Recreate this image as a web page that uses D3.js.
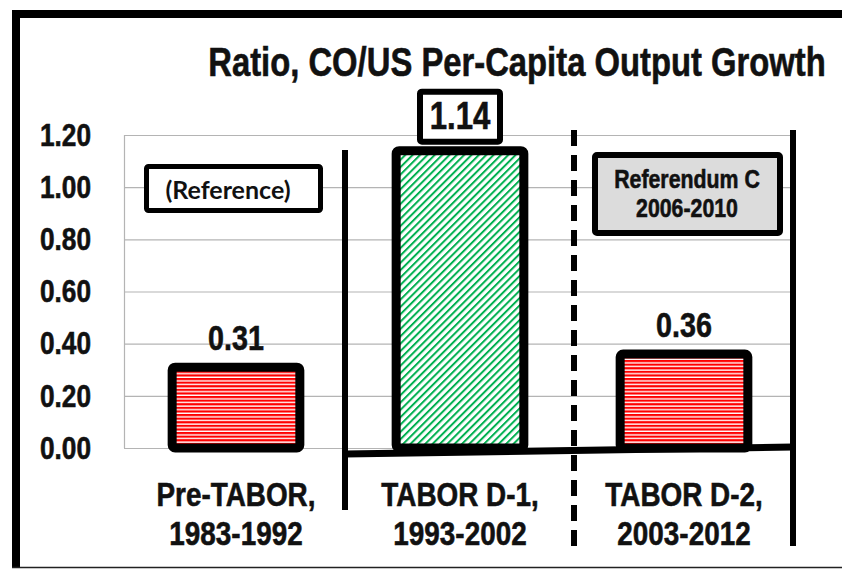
<!DOCTYPE html>
<html>
<head>
<meta charset="utf-8">
<script src="https://cdn.jsdelivr.net/npm/d3@7"></script>
<style>
  body { margin: 0; background: #fff; }
  text { font-family: 'Liberation Sans', Arial, sans-serif; font-weight: bold; fill: #111; }
  text.heavy { stroke: #111; stroke-width: 0.6px; }
</style>
</head>
<body>
<div id="chart"></div>
<script>
const width = 842;
const height = 570;

// data
const categories = ["Pre-TABOR,|1983-1992", "TABOR D-1,|1993-2002", "TABOR D-2,|2003-2012"];
const values = [0.31, 1.14, 0.36];
const fills = ["red", "green", "red"];
const yTicks = [0, 0.2, 0.4, 0.6, 0.8, 1.0, 1.2];
const titleText = "Ratio, CO/US Per-Capita Output Growth";

const plot = { left: 124, right: 796, top: 135, bottom: 448 };
const narrow = 0.82; // squeeze Liberation Sans to look like Arial Narrow

const x = d3.scaleBand()
    .domain(categories)
    .range([plot.left, plot.right])
    .paddingInner(0.43)
    .paddingOuter(0.215);

const y = d3.scaleLinear()
    .domain([0, 1.2])
    .range([plot.bottom, plot.top]);

const svg = d3.select("#chart").append("svg")
    .attr("width", width)
    .attr("height", height);

// narrow bold text helper
function label(px, py, t, size) {
    return svg.append("text")
        .attr("class", "heavy")
        .attr("transform", `translate(${px},${py}) scale(${narrow},1)`)
        .attr("text-anchor", "middle")
        .attr("font-size", size)
        .text(t);
}

// patterns
const defs = svg.append("defs");
const red = defs.append("pattern")
    .attr("id", "red")
    .attr("patternUnits", "userSpaceOnUse")
    .attr("width", 8).attr("height", 3.6);
red.append("rect").attr("width", 8).attr("height", 3.6).attr("fill", "#fff");
red.append("rect").attr("width", 8).attr("height", 2.2).attr("fill", "#ff0000");

const green = defs.append("pattern")
    .attr("id", "green")
    .attr("patternUnits", "userSpaceOnUse")
    .attr("width", 5.2).attr("height", 10)
    .attr("patternTransform", "rotate(45)");
green.append("rect").attr("width", 5.2).attr("height", 10).attr("fill", "#fff");
green.append("rect").attr("width", 2).attr("height", 10).attr("fill", "#00b050");

// frame
svg.append("line").attr("x1", 12).attr("x2", width).attr("y1", 14).attr("y2", 14)
    .attr("stroke", "#000").attr("stroke-width", 8);
svg.append("line").attr("x1", 16).attr("x2", 16).attr("y1", 10).attr("y2", 568)
    .attr("stroke", "#000").attr("stroke-width", 8);
svg.append("line").attr("x1", 12).attr("x2", width).attr("y1", 567.5).attr("y2", 567.5)
    .attr("stroke", "#222").attr("stroke-width", 1.5);

// gridlines
svg.append("g")
    .attr("transform", `translate(${plot.left},0)`)
    .call(d3.axisLeft(y).tickValues(yTicks).tickSize(-(790 - plot.left)).tickFormat(""))
    .call(g => g.select(".domain").remove())
    .call(g => g.selectAll("line").attr("stroke", "#b4b4b4").attr("stroke-width", 1.2));
svg.append("line")
    .attr("x1", plot.left + 0.5).attr("x2", plot.left + 0.5)
    .attr("y1", y(1.2)).attr("y2", y(0))
    .attr("stroke", "#b4b4b4").attr("stroke-width", 1.2);

// y tick labels
svg.append("g")
    .attr("transform", "translate(91,0)")
    .call(d3.axisLeft(y).tickValues(yTicks).tickSize(0).tickPadding(0).tickFormat(d3.format(".2f")))
    .call(g => g.select(".domain").remove())
    .call(g => g.selectAll("text")
        .attr("class", "heavy")
        .attr("font-size", 32)
        .attr("fill", "#111")
        .attr("transform", `scale(${narrow},1)`)
        .style("font-family", "'Liberation Sans', Arial, sans-serif")
        .style("font-weight", "bold"));

// annotation boxes
svg.append("rect")
    .attr("x", 146.5).attr("y", 166.5).attr("width", 174).attr("height", 44)
    .attr("rx", 2).attr("fill", "#fff").attr("stroke", "#000").attr("stroke-width", 5);
svg.append("text")
    .attr("x", 228).attr("y", 199)
    .attr("text-anchor", "middle")
    .attr("font-size", 25)
    .style("font-family", "Lato, 'Open Sans', sans-serif")
    .text("(Reference)");

svg.append("rect")
    .attr("x", 595).attr("y", 155).attr("width", 185).attr("height", 78)
    .attr("rx", 2).attr("fill", "#dcdcdc").attr("stroke", "#000").attr("stroke-width", 6);
label(687, 188, "Referendum C", 26);
label(687, 217, "2006-2010", 26);

// bars
svg.selectAll(".bar")
    .data(values)
    .join("rect")
    .attr("class", "bar")
    .attr("x", (d, i) => x(categories[i]))
    .attr("y", d => y(d))
    .attr("width", x.bandwidth())
    .attr("height", d => y(0) - y(d))
    .attr("rx", 3)
    .attr("fill", (d, i) => `url(#${fills[i]})`)
    .attr("stroke", "#000")
    .attr("stroke-width", 9);

// baseline for the TABOR periods
svg.append("line")
    .attr("x1", 345).attr("x2", 793)
    .attr("y1", y(0) + 6).attr("y2", y(0) - 1)
    .attr("stroke", "#000").attr("stroke-width", 7);

// period dividers
svg.append("line").attr("x1", 345).attr("x2", 345).attr("y1", 150).attr("y2", 510)
    .attr("stroke", "#000").attr("stroke-width", 6);
svg.append("line").attr("x1", 574).attr("x2", 574).attr("y1", 130).attr("y2", 548)
    .attr("stroke", "#000").attr("stroke-width", 6)
    .attr("stroke-dasharray", "16,9");
svg.append("line").attr("x1", 793).attr("x2", 793).attr("y1", 130).attr("y2", 546)
    .attr("stroke", "#000").attr("stroke-width", 6);

// value labels
values.forEach((v, i) => {
    const cx = x(categories[i]) + x.bandwidth() / 2;
    if (i === 1) {
        svg.append("rect")
            .attr("x", cx - 40).attr("y", y(v) - 59)
            .attr("width", 80).attr("height", 50)
            .attr("rx", 2).attr("fill", "#fff").attr("stroke", "#000").attr("stroke-width", 6);
        label(cx, y(v) - 22, v.toFixed(2), 38);
    } else {
        label(cx, y(v) - 17, v.toFixed(2), 35);
    }
});

// category labels
categories.forEach(c => {
    const cx = x(c) + x.bandwidth() / 2;
    c.split("|").forEach((t, k) => label(cx, 506 + k * 39, t, 34));
});

// title
label(517, 76, titleText, 40);
</script>
</body>
</html>
